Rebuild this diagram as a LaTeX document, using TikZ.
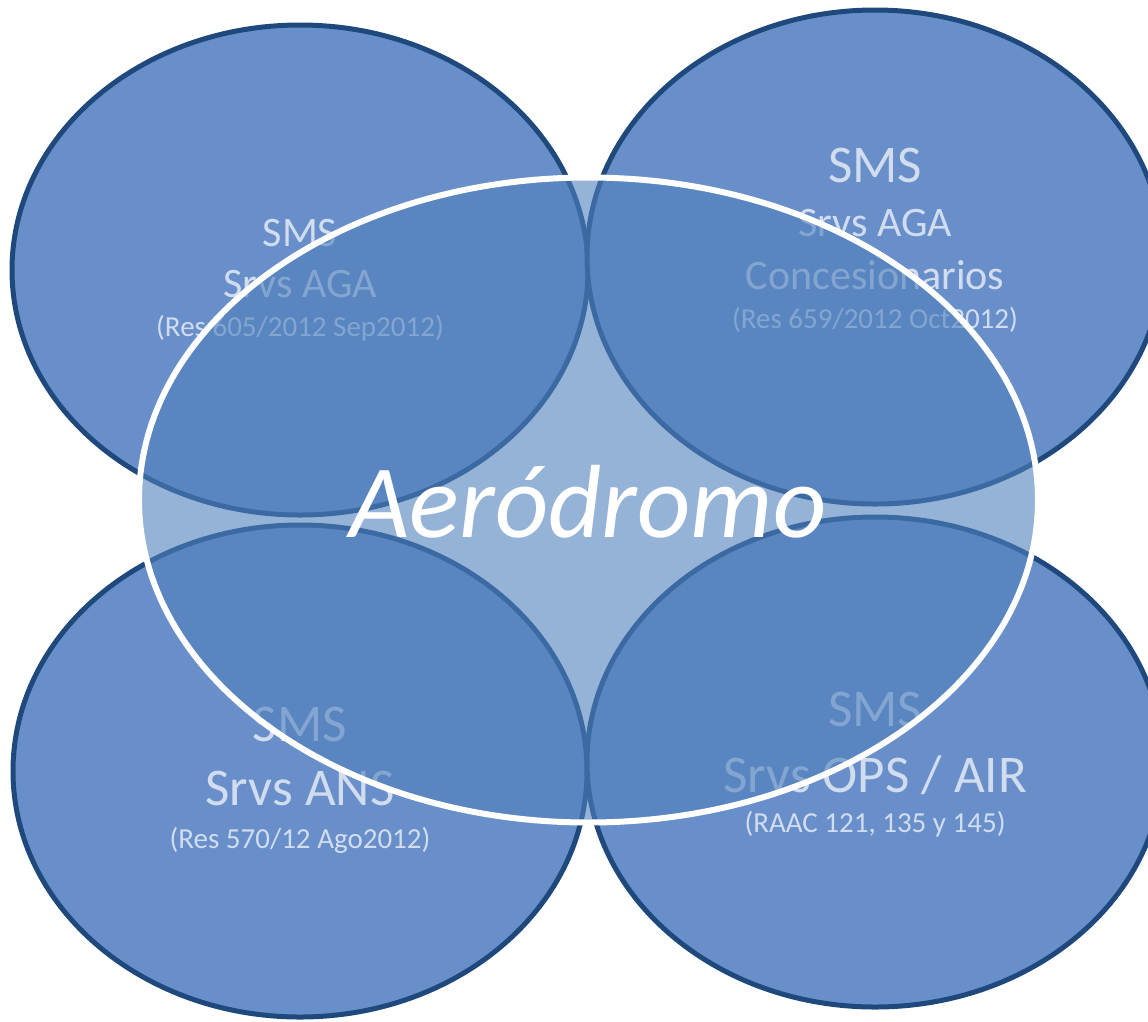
\documentclass[tikz,border=0pt]{standalone}
\usepackage{fontspec}
\setmainfont{Carlito}
\usetikzlibrary{shapes.geometric}
\definecolor{ellfill}{RGB}{104,143,201}
\definecolor{ellline}{RGB}{31,73,125}
\definecolor{ctrfill}{RGB}{79,129,189}
\begin{document}
\begin{tikzpicture}[x=1pt,y=-1pt,
  outerell/.style={ellipse, draw=ellline, line width=5pt, fill=ellfill, inner sep=0pt, outer sep=0pt},
  hubell/.style={ellipse, draw=white, line width=6pt, fill=ctrfill, fill opacity=0.6, inner sep=0pt, outer sep=0pt},
  lbl/.style={text=white, text opacity=0.7, anchor=base, inner sep=0pt},
  big/.style={font=\fontsize{53}{53}\selectfont},
  mid/.style={font=\fontsize{42}{42}\selectfont},
  small/.style={font=\fontsize{29}{29}\selectfont}]
\useasboundingbox (0,0) rectangle (1148,1021);
\clip (0,0) rectangle (1148,1021);
% outer ellipses
\node[outerell, minimum width=576pt, minimum height=490pt] (tl) at (300,270) {};
\node[outerell, minimum width=576pt, minimum height=494pt] (tr) at (875,257) {};
\node[outerell, minimum width=574pt, minimum height=492pt] (bl) at (300,771) {};
\node[outerell, minimum width=576pt, minimum height=490pt] (br) at (875,762) {};
% texts of outer ellipses
\node[lbl, mid] (tl1) at (300,246) {SMS};
\node[lbl, mid] (tl2) at (300,297) {Srvs AGA};
\node[lbl, small] (tl3) at (300,336) {(Res 605/2012 Sep2012)};
\node[lbl, big] (tr1) at (875,182) {SMS};
\node[lbl, mid] (tr2) at (875,236) {Srvs AGA};
\node[lbl, mid] (tr3) at (875,289) {Concesionarios};
\node[lbl, small] (tr4) at (875,328) {(Res 659/2012 Oct2012)};
\node[lbl, big] (bl1) at (300,741) {SMS};
\node[lbl, big] (bl2) at (300,805) {Srvs ANS};
\node[lbl, small] (bl3) at (300,848) {(Res 570/12 Ago2012)};
\node[lbl, big] (br1) at (875,726) {SMS};
\node[lbl, big] (br2) at (875,792) {Srvs OPS / AIR};
\node[lbl, small] (br3) at (875,832) {(RAAC 121, 135 y 145)};
% central ellipse
\node[hubell, minimum width=899pt, minimum height=645pt] (hub) at (588.5,500) {};
\node[text=white, anchor=base, inner sep=0pt, font=\fontsize{104}{104}\selectfont\itshape] (hubtxt) at (588,537) {Aeródromo};
\end{tikzpicture}
\end{document}
